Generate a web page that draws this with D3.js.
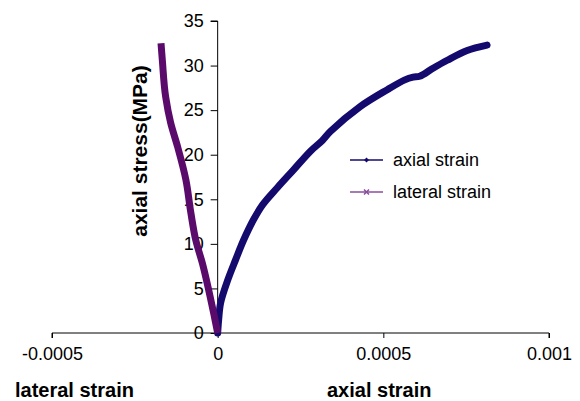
<!DOCTYPE html>
<html>
<head>
<meta charset="utf-8">
<script src="https://cdn.jsdelivr.net/npm/d3@7"></script>
<style>
  body { margin: 0; background: #fff; }
  svg { display: block; font-family: Arial, "Liberation Sans", sans-serif; }
</style>
</head>
<body>
<svg id="chart" width="580" height="401"></svg>
<script>
// values
var axialStrain = [0, 0.000003, 0.000009, 0.00003, 0.000054, 0.000078, 0.000108, 0.000136, 0.00018, 0.000229, 0.00028, 0.000316, 0.00034, 0.00043, 0.000512, 0.000565, 0.00059, 0.00061, 0.00065, 0.000693, 0.000753, 0.000813];
var axialStress = [0, 1.5, 3.4, 5.9, 8.2, 10.4, 12.7, 14.4, 16.3, 18.3, 20.4, 21.6, 22.6, 25.4, 27.3, 28.4, 28.7, 28.8, 29.7, 30.6, 31.7, 32.3];

var lateralStrain = [0, -0.000012, -0.000027, -0.000046, -0.000066, -0.000081, -0.000096, -0.000121, -0.000142, -0.000157, -0.000167, -0.000171];
var lateralStress = [0, 2.2, 4.8, 7.8, 10.4, 13.5, 17.2, 20.9, 23.6, 26.5, 30.6, 32.5];

var xTicks = [-0.0005, 0, 0.0005, 0.001];
var xTickLabels = ["-0.0005", "0", "0.0005", "0.001"];
var yTicks = [0, 5, 10, 15, 20, 25, 30, 35];
var seriesNames = ["axial strain", "lateral strain"];
var seriesColors = ["#140a6e", "#5a0a6a"];
var legendColors = ["#140a6e", "#8a4c9e"];

var svg = d3.select("#chart");

var x = d3.scaleLinear().domain([-0.0005, 0.001]).range([52, 549]);
var y = d3.scaleLinear().domain([0, 35]).range([333, 21]);

// x axis at stress 0
var xAxis = svg.append("g")
  .attr("transform", "translate(0," + y(0) + ")")
  .call(d3.axisBottom(x).tickValues(xTicks).tickSize(5)
    .tickFormat(function (d, i) { return xTickLabels[i]; }));
xAxis.select(".domain").attr("d", "M" + x(-0.0005) + ",5V0H" + x(0.001) + "V5");
xAxis.selectAll("text").attr("y", 14).attr("font-size", 18).attr("font-family", null).attr("fill", "#000");

// y axis at strain 0
var yAxis = svg.append("g")
  .attr("transform", "translate(" + x(0) + ",0)")
  .call(d3.axisLeft(y).tickValues(yTicks).tickSize(7));
yAxis.select(".domain").attr("d", "M-7," + y(35) + "H0V" + y(0));
yAxis.selectAll("text").attr("x", -14).attr("font-size", 18).attr("font-family", null).attr("fill", "#000");
svg.selectAll(".domain, .tick line").attr("stroke", "#000").attr("stroke-width", 1);

function pts(xs, ys) {
  return xs.map(function (v, i) { return [x(v), y(ys[i])]; });
}

svg.append("path")
  .attr("d", d3.line().curve(d3.curveCatmullRom)(pts(axialStrain, axialStress)))
  .attr("fill", "none")
  .attr("stroke", seriesColors[0])
  .attr("stroke-width", 7)
  .attr("stroke-linejoin", "round")
  .attr("stroke-linecap", "round");

svg.append("path")
  .attr("d", d3.line().curve(d3.curveMonotoneY)(pts(lateralStrain, lateralStress).reverse()))
  .attr("fill", "none")
  .attr("stroke", seriesColors[1])
  .attr("stroke-width", 7)
  .attr("stroke-linejoin", "round")
  .attr("stroke-linecap", "butt");

// axis titles
svg.append("text").attr("x", 15).attr("y", 397)
  .attr("font-size", 20).attr("font-weight", "bold").text("lateral strain");
svg.append("text").attr("x", 327).attr("y", 397)
  .attr("font-size", 20).attr("font-weight", "bold").text("axial strain");
svg.append("text")
  .attr("transform", "translate(147,151) rotate(-90)")
  .attr("text-anchor", "middle")
  .attr("font-size", 21).attr("font-weight", "bold").text("axial stress(MPa)");

// legend
var legend = svg.append("g").attr("transform", "translate(350,160)");
seriesNames.forEach(function (name, i) {
  var row = legend.append("g").attr("transform", "translate(0," + i * 32 + ")");
  row.append("line").attr("x1", 0).attr("x2", 33).attr("y1", 0).attr("y2", 0)
    .attr("stroke", legendColors[i]).attr("stroke-width", 1.3);
  if (i === 0) {
    row.append("path").attr("d", "M16.5,-2.5L19,0L16.5,2.5L14,0Z").attr("fill", legendColors[i]);
  } else {
    row.append("path").attr("d", "M14,-2.5L19,2.5M19,-2.5L14,2.5")
      .attr("stroke", legendColors[i]).attr("stroke-width", 1.5);
  }
  row.append("text").attr("x", 43).attr("y", 6)
    .attr("font-size", 18).text(name);
});
</script>
</body>
</html>
